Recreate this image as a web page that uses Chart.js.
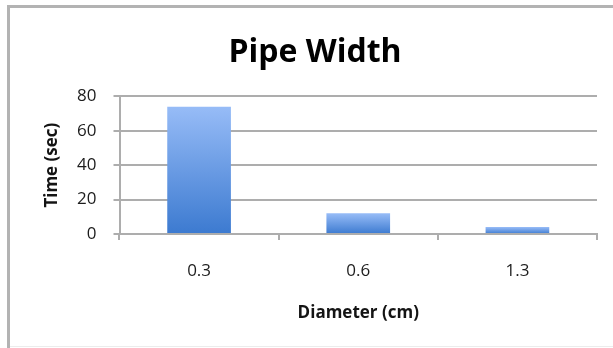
<!DOCTYPE html>
<html>
<head>
<meta charset="utf-8">
<script src="https://cdn.jsdelivr.net/npm/chart.js@4/dist/chart.umd.min.js"></script>
<style>
  html, body { margin: 0; padding: 0; background: #fff; }
  #wrap { position: relative; width: 613px; height: 348px; }
</style>
</head>
<body>
<div id="wrap"><canvas id="c" width="613" height="348"></canvas></div>
<script>
// Pipe diameter (cm) against time taken (sec)
const diameters = ['0.3', '0.6', '1.3'];
const times = [74, 12, 4];
const yTicks = [0, 20, 40, 60, 80];

const chartTitle = 'Pipe Width';
const xTitle = 'Diameter (cm)';
const yTitle = 'Time (sec)';

// Light-to-dark blue fill running down each bar
function barFill(ctx) {
  const chart = ctx.chart;
  if (!chart.chartArea) return '#5a90e0';
  const y = chart.scales.y;
  const top = y.getPixelForValue(ctx.raw);
  const base = y.getPixelForValue(0);
  const g = chart.ctx.createLinearGradient(0, top, 0, base);
  g.addColorStop(0, '#97bcf7');
  g.addColorStop(1, '#3c7ad0');
  return g;
}

// Grey frame along the top and left edges
const framePlugin = {
  id: 'frame',
  beforeDraw(chart) {
    const c = chart.ctx;
    c.save();
    c.fillStyle = '#ffffff';
    c.fillRect(0, 0, chart.width, chart.height);
    c.fillStyle = '#b3b3b3';
    c.fillRect(7, 5, chart.width - 7, 3);
    c.fillRect(7, 5, 3, chart.height - 5);
    c.fillStyle = '#ececec';
    c.fillRect(10, 346, chart.width - 10, 1);
    c.restore();
  }
};

const gridColor = '#adadad';

new Chart(document.getElementById('c'), {
  type: 'bar',
  data: {
    labels: diameters,
    datasets: [{
      label: yTitle,
      data: times,
      backgroundColor: barFill,
      borderWidth: 0,
      barPercentage: 0.4,
      categoryPercentage: 1.0
    }]
  },
  options: {
    responsive: false,
    animation: false,
    devicePixelRatio: 1,
    layout: { padding: { left: 33, right: 16, top: 0, bottom: 0 } },
    plugins: {
      legend: { display: false },
      tooltip: { enabled: false },
      title: {
        display: true,
        text: chartTitle,
        color: '#000000',
        font: { family: 'Open Sans', size: 32, weight: 'bold' },
        padding: { top: 33.8, bottom: 24.1 }
      }
    },
    scales: {
      x: {
        grid: {
          display: true,
          drawOnChartArea: false,
          drawTicks: true,
          tickLength: 6,
          color: gridColor,
          lineWidth: 2,
          offset: true
        },
        border: { display: true, color: gridColor, width: 2 },
        ticks: {
          color: '#1c1c1c',
          font: { family: 'Open Sans', size: 17 },
          padding: 21
        },
        title: {
          display: true,
          text: xTitle,
          color: '#141414',
          font: { family: 'Open Sans', size: 17, weight: 'bold' },
          padding: { top: 0, bottom: 25 }
        },
        afterFit(scale) { scale.height = 114; }
      },
      y: {
        min: 0,
        max: 80,
        afterBuildTicks(scale) { scale.ticks = yTicks.map(v => ({ value: v })); },
        grid: {
          color: gridColor,
          lineWidth: 2,
          drawTicks: true,
          tickLength: 6
        },
        border: { display: true, color: gridColor, width: 2 },
        ticks: {
          color: '#1c1c1c',
          font: { family: 'Open Sans', size: 17 },
          padding: 17
        },
        title: {
          display: true,
          text: yTitle,
          color: '#141414',
          font: { family: 'Open Sans', size: 17, weight: 'bold' },
          padding: { top: 8.8, bottom: 0 }
        },
        afterFit(scale) { scale.width = 86.5; }
      }
    }
  },
  plugins: [framePlugin]
});
</script>
</body>
</html>
